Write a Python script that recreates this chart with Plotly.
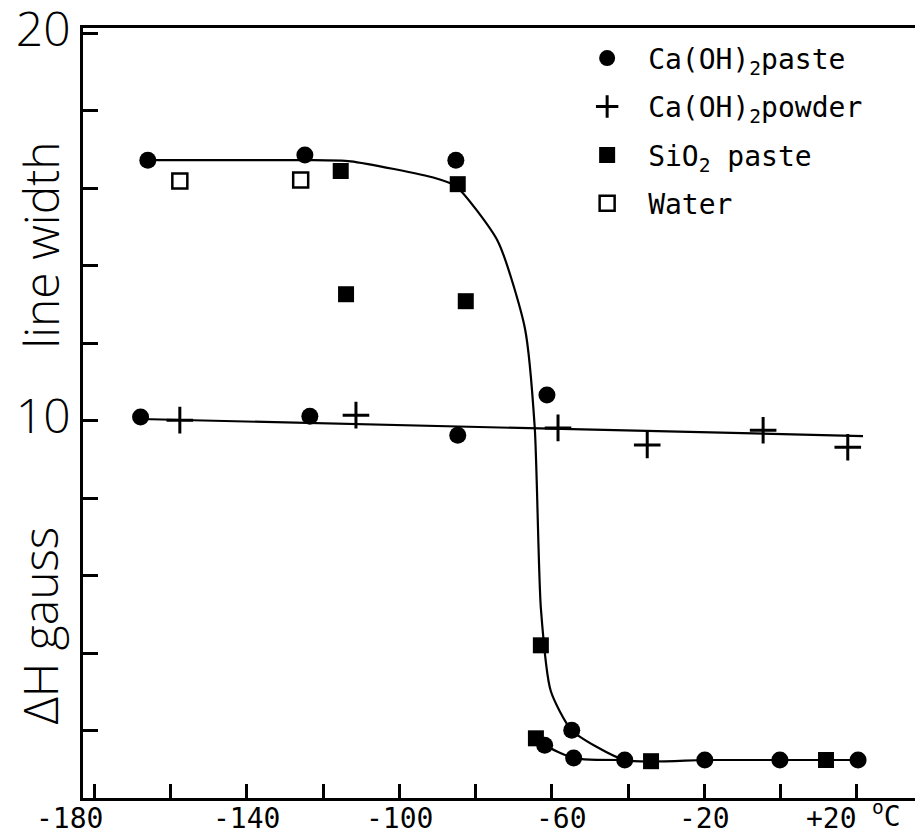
import plotly.graph_objects as go

# ---- data (temperature in deg C, line width dH in gauss) ----
paste_T = [-166.0, -124.8, -85.2, -61.3, -54.8, -61.9, -54.3, -40.9, -19.9, -0.2, 20.3]
paste_H = [16.72, 16.85, 16.72, 10.66, 2.01, 1.62, 1.29, 1.24, 1.24, 1.24, 1.24]
paste_low_T = [-167.9, -123.5, -84.7]
paste_low_H = [10.09, 10.11, 9.62]

powder_T = [-157.6, -111.4, -58.4, -35.0, -4.6, 17.6]
powder_H = [10.01, 10.14, 9.81, 9.37, 9.75, 9.31]

sio2_T = [-115.4, -84.7, -114.0, -82.6, -62.9, -64.2, -34.0, 11.9]
sio2_H = [16.44, 16.10, 13.26, 13.08, 4.20, 1.80, 1.21, 1.24]

water_T = [-157.6, -125.9]
water_H = [16.18, 16.21]

curve_T = [-166.0, -124.8, -112.8, -90.7, -85.2, -74.2, -67.1, -64.5, -62.9, -60.3, -54.8, -40.9, -19.9, -0.2, 20.3]
curve_H = [16.72, 16.72, 16.69, 16.26, 16.05, 14.63, 12.39, 9.81, 5.16, 3.02, 2.01, 1.24, 1.24, 1.24, 1.24]

curve2_T = [-64.2, -61.9, -54.3, -40.9]
curve2_H = [1.80, 1.62, 1.29, 1.24]

powder_fit_T = [-167.9, 21.6]
powder_fit_H = [10.04, 9.60]

x_tickvals = [-180, -140, -100, -60, -20, 20]
x_ticktext = ["-180", "-140", "-100", "-60", "-20", "+20"]
y_tickvals = [10, 20]
y_ticktext = ["10", "20"]

# layout-only offsets of the typed x labels (pixels)
x_label_shift = [-25, 0, 0, 10, 0, -25]

MONO = "DejaVu Sans Mono"
LIGHT = "Open Sans"

fig = go.Figure()

line_style = dict(color="black", width=2.2, shape="spline", smoothing=0.6)
fig.add_trace(go.Scatter(x=curve_T, y=curve_H, mode="lines", line=line_style, showlegend=False, hoverinfo="skip"))
fig.add_trace(go.Scatter(x=curve2_T, y=curve2_H, mode="lines", line=line_style, showlegend=False, hoverinfo="skip"))
fig.add_trace(go.Scatter(x=powder_fit_T, y=powder_fit_H, mode="lines", line=dict(color="black", width=2.2),
                         showlegend=False, hoverinfo="skip"))

fig.add_trace(go.Scatter(x=paste_T, y=paste_H, mode="markers", name="Ca(OH)<sub>2</sub>paste",
                         marker=dict(symbol="circle", size=17, color="black"), legendgroup="a"))
fig.add_trace(go.Scatter(x=paste_low_T, y=paste_low_H, mode="markers", showlegend=False,
                         marker=dict(symbol="circle", size=17, color="black"), legendgroup="a"))
fig.add_trace(go.Scatter(x=powder_T, y=powder_H, mode="markers", name="Ca(OH)<sub>2</sub>powder",
                         marker=dict(symbol="cross-thin", size=19, color="black", line=dict(color="black", width=3)),
                         legendgroup="b"))
fig.add_trace(go.Scatter(x=sio2_T, y=sio2_H, mode="markers", name="SiO<sub>2</sub> paste",
                         marker=dict(symbol="square", size=16, color="black"), legendgroup="c"))
fig.add_trace(go.Scatter(x=water_T, y=water_H, mode="markers", name="Water",
                         marker=dict(symbol="square-open", size=15, color="black", line=dict(color="black", width=2.5)),
                         legendgroup="d"))

fig.update_layout(
    width=923, height=835,
    margin=dict(l=75, r=15, t=20, b=45),
    plot_bgcolor="white", paper_bgcolor="white",
    showlegend=True,
    legend=dict(x=0.580, y=0.993, xanchor="left", yanchor="top", bgcolor="rgba(0,0,0,0)",
                font=dict(family=MONO, size=28, color="black"), tracegroupgap=9,
                itemsizing="trace", itemwidth=72),
    xaxis=dict(range=[-183.0, 35.5], showgrid=False, zeroline=False, automargin=False,
               showline=True, linecolor="black", linewidth=2.5, mirror=True,
               tick0=0, dtick=20, ticks="inside", ticklen=14, tickwidth=2.5, tickcolor="black",
               showticklabels=False),
    yaxis=dict(range=[0.26, 20.13], showgrid=False, zeroline=False, automargin=False,
               showline=True, linecolor="black", linewidth=2.5, mirror=True,
               tickvals=y_tickvals, ticktext=y_ticktext, ticks="inside", ticklen=15, tickwidth=2.5, tickcolor="black",
               ticklabeloverflow="allow", ticklabelshift=-4,
               tickfont=dict(family=LIGHT, size=48, color="black", weight=300),
               minor=dict(ticks="inside", ticklen=15, tickwidth=2.5, tickcolor="black", dtick=2, tick0=0, showgrid=False)),
)

for v, t, s in zip(x_tickvals, x_ticktext, x_label_shift):
    fig.add_annotation(text=t, xref="x", yref="paper", x=v, y=-0.026, xshift=s, showarrow=False,
                       font=dict(family=MONO, size=28, color="black"), xanchor="center", yanchor="middle")

fig.add_annotation(text="<sup>o</sup>C", xref="paper", yref="paper", x=0.965, y=-0.022, showarrow=False,
                   font=dict(family=MONO, size=28, color="black"), xanchor="center", yanchor="middle")

fig.add_annotation(text="line width", xref="paper", yref="y", x=-0.052, y=14.53, textangle=-90,
                   showarrow=False, font=dict(family=LIGHT, size=48, color="black", weight=300),
                   xanchor="center", yanchor="middle")
fig.add_annotation(text="\u0394H gauss", xref="paper", yref="y", x=-0.052, y=4.70, textangle=-90,
                   showarrow=False, font=dict(family=LIGHT, size=48, color="black", weight=300),
                   xanchor="center", yanchor="middle")

fig.write_html("out.html")
